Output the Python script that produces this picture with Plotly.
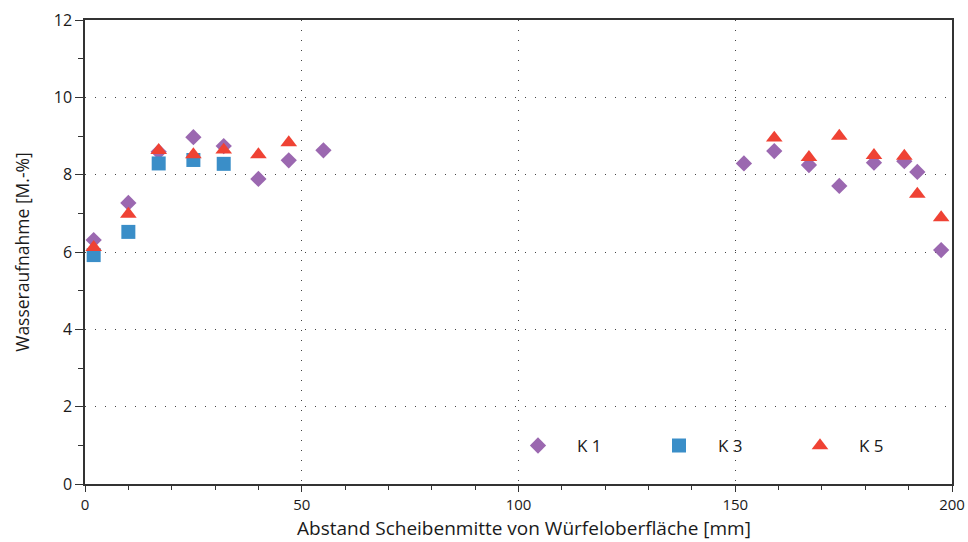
import plotly.graph_objects as go

# Data
k1_x = [2, 10, 17, 25, 32, 40, 47, 55, 152, 159, 167, 174, 182, 189, 192, 197.5]
k1_y = [6.31, 7.27, 8.59, 8.97, 8.74, 7.89, 8.37, 8.63, 8.29, 8.61, 8.25, 7.71, 8.31, 8.35, 8.07, 6.05]
k3_x = [2, 10, 17, 25, 32]
k3_y = [5.92, 6.52, 8.29, 8.38, 8.28]
k5_x = [2, 10, 17, 25, 32, 40, 47, 159, 167, 174, 182, 189, 192, 197.5]
k5_y = [6.12, 6.98, 8.63, 8.52, 8.64, 8.52, 8.83, 8.95, 8.45, 9.0, 8.5, 8.48, 7.5, 6.89]

x_ticks = [0, 50, 100, 150, 200]
y_ticks = [0, 2, 4, 6, 8, 10, 12]
x_title = "Abstand Scheibenmitte von Würfeloberfläche [mm]"
y_title = "Wasseraufnahme [M.-%]"

FONT = "Open Sans"
AX = "#333333"

fig = go.Figure()
fig.add_trace(go.Scatter(x=k1_x, y=k1_y, mode="markers", name="K 1",
                         marker=dict(symbol="diamond", size=12.5, color="#9b68b0", line=dict(width=0))))
fig.add_trace(go.Scatter(x=k3_x, y=k3_y, mode="markers", name="K 3",
                         marker=dict(symbol="square", size=14, color="#3a8ec8", line=dict(width=0))))
fig.add_trace(go.Scatter(x=k5_x, y=k5_y, mode="markers", name="K 5",
                         marker=dict(symbol="triangle-up", size=14.5, color="#ef4234", line=dict(width=0))))

fig.update_layout(
    width=968, height=542,
    margin=dict(l=85, r=16, t=20, b=58, autoexpand=False),
    paper_bgcolor="white", plot_bgcolor="white",
    font=dict(family=FONT, size=16, color="#1a1a1a"),
    showlegend=True,
    legend=dict(orientation="h", x=0.4775, y=0.082, xanchor="left", yanchor="middle",
                itemwidth=68, entrywidth=58, bgcolor="rgba(0,0,0,0)",
                font=dict(family=FONT, size=17)),
    annotations=[dict(text=x_title, xref="paper", yref="paper", x=0.506, y=-0.125,
                      xanchor="center", yanchor="bottom", showarrow=False, borderpad=0,
                      font=dict(family=FONT, size=19, color="#1a1a1a"))],
)

fig.update_xaxes(
    range=[0, 200], tickvals=x_ticks, ticktext=[str(v) for v in x_ticks],
    showline=True, linecolor=AX, linewidth=1.5, mirror=True, automargin=False,
    ticks="outside", ticklen=6, tickwidth=1.2, tickcolor=AX,
    tickfont=dict(family=FONT, size=15),
    minor=dict(dtick=10, ticks="outside", ticklen=4, tickwidth=1, tickcolor=AX, showgrid=False),
    showgrid=True, gridcolor="#444444", gridwidth=1, griddash="1px,9px",
    zeroline=False,
)
fig.update_yaxes(
    range=[0, 12], tickvals=y_ticks, ticktext=[str(v) for v in y_ticks],
    showline=True, linecolor=AX, linewidth=1.5, mirror=True, automargin=False,
    ticks="outside", ticklen=8, tickwidth=1.2, tickcolor=AX,
    tickfont=dict(family=FONT, size=16),
    minor=dict(dtick=1, ticks="outside", ticklen=5, tickwidth=1, tickcolor=AX, showgrid=False),
    showgrid=True, gridcolor="#444444", gridwidth=1, griddash="1px,9px",
    zeroline=False,
    title=dict(text=y_title, standoff=20, font=dict(family=FONT, size=17.5)),
)

fig.write_html("out.html", config={"displayModeBar": False},
               post_script="document.body.style.margin='0px';")
